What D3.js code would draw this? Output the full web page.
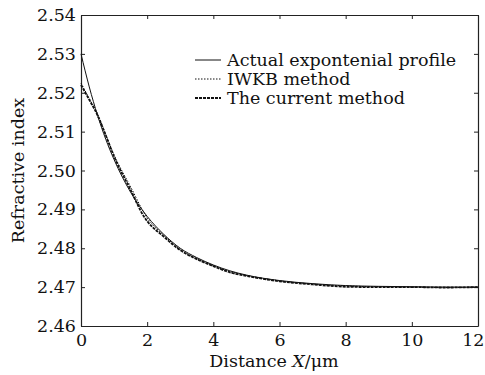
<!DOCTYPE html>
<html>
<head>
<meta charset="utf-8">
<script src="https://cdn.jsdelivr.net/npm/d3@7"></script>
<style>
  body { margin: 0; background: #fff; }
  text { font-family: "DejaVu Serif", "Liberation Serif", serif; fill: #111; }
</style>
</head>
<body>
<svg id="drawing_region"></svg>
<script>
// data
var xTicks = [0, 2, 4, 6, 8, 10, 12];
var yTicks = [2.46, 2.47, 2.48, 2.49, 2.50, 2.51, 2.52, 2.53, 2.54];
var seriesNames = ["Actual expontenial profile", "IWKB method", "The current method"];

var xActual = [0, 0.25, 0.5, 0.75, 1, 1.5, 2, 2.5, 3, 3.5, 4, 4.5, 5, 6, 7, 8, 9, 10, 11, 12];
var nActual = [2.530, 2.5215, 2.5142, 2.5080, 2.5028, 2.4944, 2.4882, 2.4836, 2.4800, 2.4776, 2.4757, 2.4742, 2.4731, 2.4717, 2.4709, 2.4704, 2.4702, 2.4701, 2.4700, 2.4700];

var xIwkb = [0, 0.25, 0.5, 0.75, 1, 1.5, 2, 2.5, 3, 3.5, 4, 4.5, 5, 6, 7, 8, 9, 10, 11, 12];
var nIwkb = [2.5225, 2.5185, 2.5146, 2.5092, 2.5040, 2.4958, 2.4878, 2.4834, 2.4797, 2.4773, 2.4755, 2.4740, 2.4730, 2.4716, 2.4708, 2.4703, 2.4701, 2.4700, 2.4699, 2.4700];

var xCurrent = [0, 0.25, 0.5, 0.75, 1, 1.5, 1.9, 2, 2.5, 3, 3.5, 4, 4.5, 5, 6, 7, 8, 9, 10, 11, 12];
var nCurrent = [2.5220, 2.5182, 2.5142, 2.5090, 2.5036, 2.4950, 2.4882, 2.4870, 2.4830, 2.4795, 2.4772, 2.4754, 2.4738, 2.4729, 2.4715, 2.4707, 2.4701, 2.4700, 2.4700, 2.4699, 2.4700];

var width = 485;
var height = 375;
var margin = {top: 15, right: 7, bottom: 49, left: 81};

var svg = d3.select('#drawing_region')
    .attr('width', width)
    .attr('height', height);

var chart = svg.append('g')
    .attr('transform', `translate(${margin.left}, ${margin.top})`);

const inner_width = width - margin.left - margin.right;
const inner_height = height - margin.top - margin.bottom;

const xscale = d3.scaleLinear().domain([0, 12]).range([0, inner_width]);
const yscale = d3.scaleLinear().domain([2.46, 2.54]).range([inner_height, 0]);

// axes, ticks pointing inward on all four sides
const xaxis = d3.axisBottom(xscale).tickValues(xTicks).tickSize(-4).tickPadding(8).tickSizeOuter(0);
const yaxis = d3.axisLeft(yscale).tickValues(yTicks).tickSize(-4).tickPadding(5)
    .tickSizeOuter(0).tickFormat(d3.format('.2f'));
const xtop = d3.axisTop(xscale).tickValues(xTicks).tickSize(-4).tickFormat('').tickSizeOuter(0);
const yright = d3.axisRight(yscale).tickValues(yTicks).tickSize(-4).tickFormat('').tickSizeOuter(0);

const xg = chart.append('g').attr('transform', `translate(0, ${inner_height})`).call(xaxis);
chart.append('g').call(yaxis);
chart.append('g').call(xtop);
chart.append('g').attr('transform', `translate(${inner_width}, 0)`).call(yright);

chart.selectAll('.domain').attr('stroke', '#222').attr('stroke-width', 1.2);
chart.selectAll('.tick line').attr('stroke', '#222');
chart.selectAll('.tick text').attr('font-size', 17.5).attr('fill', '#111')
    .attr('font-family', '"DejaVu Serif", serif');
// last x label sits against the right edge
xg.selectAll('.tick text').filter(d => d === 12).attr('text-anchor', 'end').attr('x', 6);

// curves
const line = d3.line().x(d => xscale(d[0])).y(d => yscale(d[1])).curve(d3.curveMonotoneX);

var series = [
  {x: xActual, n: nActual, dash: null, w: 1},
  {x: xIwkb, n: nIwkb, dash: '1.5,1.5', w: 1},
  {x: xCurrent, n: nCurrent, dash: '3,1', w: 1.8}
];

series.forEach(s => {
  chart.append('path')
    .datum(s.x.map((v, i) => [v, s.n[i]]))
    .attr('fill', 'none')
    .attr('stroke', '#111')
    .attr('stroke-width', s.w)
    .attr('stroke-dasharray', s.dash)
    .attr('d', line);
});

// legend
var legend = svg.append('g').attr('transform', 'translate(195, 60)');
series.forEach((s, i) => {
  var g = legend.append('g').attr('transform', `translate(0, ${i * 19})`);
  g.append('line')
    .attr('x1', 0).attr('x2', 26).attr('y1', 0).attr('y2', 0)
    .attr('stroke', '#111').attr('stroke-width', s.w)
    .attr('stroke-dasharray', s.dash);
  g.append('text')
    .attr('x', 32).attr('y', 6)
    .attr('font-size', 17.5)
    .text(seriesNames[i]);
});

// axis titles
svg.append('text')
    .attr('transform', `translate(24, ${margin.top + inner_height / 2}) rotate(-90)`)
    .attr('text-anchor', 'middle')
    .attr('font-size', 17.5)
    .text('Refractive index');

var xt = svg.append('text')
    .attr('x', 274)
    .attr('y', 367)
    .attr('text-anchor', 'middle')
    .attr('font-size', 17.5);
xt.append('tspan').text('Distance ');
xt.append('tspan').attr('font-style', 'italic').text('X');
xt.append('tspan').text('/μm');
</script>
</body>
</html>
